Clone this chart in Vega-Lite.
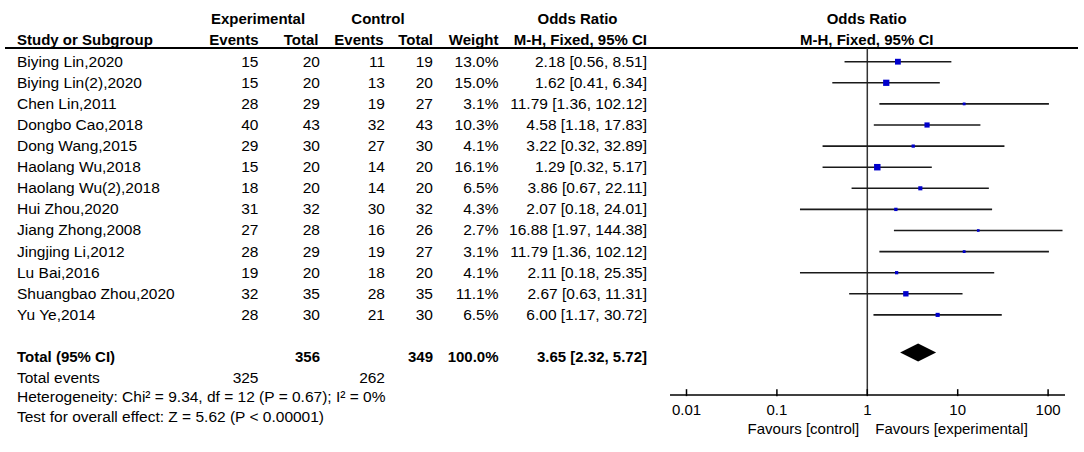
{
  "$schema": "https://vega.github.io/schema/vega-lite/v6.json",
  "width": 1084,
  "height": 452,
  "padding": 0,
  "autosize": {"type": "fit", "contains": "padding"},
  "background": "white",
  "config": {
    "view": {"stroke": null},
    "text": {"font": "Liberation Sans", "fontSize": 15.5, "color": "#000000", "baseline": "middle"}
  },
  "datasets": {
    "studies": [
      {"study": "Biying Lin,2020", "expEv": 15, "expTot": 20, "ctlEv": 11, "ctlTot": 19, "weight": 0.130, "or": 2.18, "lo": 0.56, "hi": 8.51},
      {"study": "Biying Lin(2),2020", "expEv": 15, "expTot": 20, "ctlEv": 13, "ctlTot": 20, "weight": 0.150, "or": 1.62, "lo": 0.41, "hi": 6.34},
      {"study": "Chen Lin,2011", "expEv": 28, "expTot": 29, "ctlEv": 19, "ctlTot": 27, "weight": 0.031, "or": 11.79, "lo": 1.36, "hi": 102.12},
      {"study": "Dongbo Cao,2018", "expEv": 40, "expTot": 43, "ctlEv": 32, "ctlTot": 43, "weight": 0.103, "or": 4.58, "lo": 1.18, "hi": 17.83},
      {"study": "Dong Wang,2015", "expEv": 29, "expTot": 30, "ctlEv": 27, "ctlTot": 30, "weight": 0.041, "or": 3.22, "lo": 0.32, "hi": 32.89},
      {"study": "Haolang Wu,2018", "expEv": 15, "expTot": 20, "ctlEv": 14, "ctlTot": 20, "weight": 0.161, "or": 1.29, "lo": 0.32, "hi": 5.17},
      {"study": "Haolang Wu(2),2018", "expEv": 18, "expTot": 20, "ctlEv": 14, "ctlTot": 20, "weight": 0.065, "or": 3.86, "lo": 0.67, "hi": 22.11},
      {"study": "Hui Zhou,2020", "expEv": 31, "expTot": 32, "ctlEv": 30, "ctlTot": 32, "weight": 0.043, "or": 2.07, "lo": 0.18, "hi": 24.01},
      {"study": "Jiang Zhong,2008", "expEv": 27, "expTot": 28, "ctlEv": 16, "ctlTot": 26, "weight": 0.027, "or": 16.88, "lo": 1.97, "hi": 144.38},
      {"study": "Jingjing Li,2012", "expEv": 28, "expTot": 29, "ctlEv": 19, "ctlTot": 27, "weight": 0.031, "or": 11.79, "lo": 1.36, "hi": 102.12},
      {"study": "Lu Bai,2016", "expEv": 19, "expTot": 20, "ctlEv": 18, "ctlTot": 20, "weight": 0.041, "or": 2.11, "lo": 0.18, "hi": 25.35},
      {"study": "Shuangbao Zhou,2020", "expEv": 32, "expTot": 35, "ctlEv": 28, "ctlTot": 35, "weight": 0.111, "or": 2.67, "lo": 0.63, "hi": 11.31},
      {"study": "Yu Ye,2014", "expEv": 28, "expTot": 30, "ctlEv": 21, "ctlTot": 30, "weight": 0.065, "or": 6.00, "lo": 1.17, "hi": 30.72}
    ],
    "pooled": [
      {"label": "Total (95% CI)", "expTot": 356, "ctlTot": 349, "weight": 1.0, "or": 3.65, "lo": 2.32, "hi": 5.72, "expEv": 325, "ctlEv": 262,
       "het": "Heterogeneity: Chi² = 9.34, df = 12 (P = 0.67); I² = 0%", "test": "Test for overall effect: Z = 5.62 (P < 0.00001)"}
    ],
    "ticks": [{"v": 0.01}, {"v": 0.1}, {"v": 1}, {"v": 10}, {"v": 100}],
    "blank": [{}]
  },
  "resolve": {"scale": {"x": "independent"}},
  "layer": [
    {
      "layer": [
        {
          "data": {"name": "blank"},
          "mark": {"type": "rule", "color": "#000000", "strokeWidth": 1.8},
          "encoding": {
            "x": {"datum": 5, "type": "quantitative", "scale": {"domain": [0, 1084], "nice": false, "zero": false}, "axis": null},
            "x2": {"datum": 1078},
            "y": {"datum": 0.35, "type": "quantitative", "scale": {"domain": [-1.924, 19.498], "reverse": true, "nice": false, "zero": false}, "axis": null}
          }
        },
        {
          "data": {"name": "blank"},
          "encoding": {
            "x": {"datum": 258, "type": "quantitative", "scale": {"domain": [0, 1084], "nice": false, "zero": false}, "axis": null},
            "y": {"datum": -1.01, "type": "quantitative", "scale": {"domain": [-1.924, 19.498], "reverse": true, "nice": false, "zero": false}, "axis": null}
          },
          "layer": [
            {"mark": {"type": "text", "align": "center", "fontWeight": "bold", "fontSize": 15}, "encoding": {"text": {"value": "Experimental"}}},
            {"mark": {"type": "text", "align": "center", "fontWeight": "bold", "fontSize": 15}, "encoding": {"x": {"datum": 378}, "text": {"value": "Control"}}},
            {"mark": {"type": "text", "align": "center", "fontWeight": "bold", "fontSize": 15}, "encoding": {"x": {"datum": 577.5}, "text": {"value": "Odds Ratio"}}},
            {"mark": {"type": "text", "align": "center", "fontWeight": "bold", "fontSize": 15}, "encoding": {"x": {"datum": 866.7}, "text": {"value": "Odds Ratio"}}},
            {"mark": {"type": "text", "align": "left", "fontWeight": "bold", "fontSize": 15}, "encoding": {"x": {"datum": 17}, "y": {"datum": -0.03}, "text": {"value": "Study or Subgroup"}}},
            {"mark": {"type": "text", "align": "right", "fontWeight": "bold", "fontSize": 15}, "encoding": {"x": {"datum": 258.5}, "y": {"datum": -0.03}, "text": {"value": "Events"}}},
            {"mark": {"type": "text", "align": "right", "fontWeight": "bold", "fontSize": 15}, "encoding": {"x": {"datum": 318.5}, "y": {"datum": -0.03}, "text": {"value": "Total"}}},
            {"mark": {"type": "text", "align": "right", "fontWeight": "bold", "fontSize": 15}, "encoding": {"x": {"datum": 383.5}, "y": {"datum": -0.03}, "text": {"value": "Events"}}},
            {"mark": {"type": "text", "align": "right", "fontWeight": "bold", "fontSize": 15}, "encoding": {"x": {"datum": 433}, "y": {"datum": -0.03}, "text": {"value": "Total"}}},
            {"mark": {"type": "text", "align": "right", "fontWeight": "bold", "fontSize": 15}, "encoding": {"x": {"datum": 498.5}, "y": {"datum": -0.03}, "text": {"value": "Weight"}}},
            {"mark": {"type": "text", "align": "right", "fontWeight": "bold", "fontSize": 15}, "encoding": {"x": {"datum": 647}, "y": {"datum": -0.03}, "text": {"value": "M-H, Fixed, 95% CI"}}},
            {"mark": {"type": "text", "align": "center", "fontWeight": "bold", "fontSize": 15}, "encoding": {"x": {"datum": 866.7}, "y": {"datum": -0.03}, "text": {"value": "M-H, Fixed, 95% CI"}}}
          ]
        },
        {
          "data": {"name": "studies"},
          "transform": [
            {"window": [{"op": "row_number", "as": "rank"}]},
            {"calculate": "format(datum.or, '.2f') + ' [' + format(datum.lo, '.2f') + ', ' + format(datum.hi, '.2f') + ']'", "as": "orLabel"}
          ],
          "encoding": {
            "x": {"datum": 17, "type": "quantitative", "scale": {"domain": [0, 1084], "nice": false, "zero": false}, "axis": null},
            "y": {"field": "rank", "type": "quantitative", "scale": {"domain": [-1.924, 19.498], "reverse": true, "nice": false, "zero": false}, "axis": null}
          },
          "layer": [
            {"mark": {"type": "text", "align": "left"}, "encoding": {"text": {"field": "study"}}},
            {"mark": {"type": "text", "align": "right"}, "encoding": {"x": {"datum": 258.5}, "text": {"field": "expEv"}}},
            {"mark": {"type": "text", "align": "right"}, "encoding": {"x": {"datum": 320}, "text": {"field": "expTot"}}},
            {"mark": {"type": "text", "align": "right"}, "encoding": {"x": {"datum": 385}, "text": {"field": "ctlEv"}}},
            {"mark": {"type": "text", "align": "right"}, "encoding": {"x": {"datum": 433}, "text": {"field": "ctlTot"}}},
            {"mark": {"type": "text", "align": "right"}, "encoding": {"x": {"datum": 498.5}, "text": {"field": "weight", "type": "quantitative", "format": ".1%"}}},
            {"mark": {"type": "text", "align": "right"}, "encoding": {"x": {"datum": 647}, "text": {"field": "orLabel"}}}
          ]
        },
        {
          "data": {"name": "pooled"},
          "transform": [
            {"calculate": "format(datum.or, '.2f') + ' [' + format(datum.lo, '.2f') + ', ' + format(datum.hi, '.2f') + ']'", "as": "orLabel"}
          ],
          "encoding": {
            "x": {"datum": 17, "type": "quantitative", "scale": {"domain": [0, 1084], "nice": false, "zero": false}, "axis": null},
            "y": {"datum": 15, "type": "quantitative", "scale": {"domain": [-1.924, 19.498], "reverse": true, "nice": false, "zero": false}, "axis": null}
          },
          "layer": [
            {"mark": {"type": "text", "align": "left", "fontWeight": "bold", "fontSize": 15}, "encoding": {"text": {"field": "label"}}},
            {"mark": {"type": "text", "align": "right", "fontWeight": "bold", "fontSize": 15}, "encoding": {"x": {"datum": 320}, "text": {"field": "expTot"}}},
            {"mark": {"type": "text", "align": "right", "fontWeight": "bold", "fontSize": 15}, "encoding": {"x": {"datum": 433}, "text": {"field": "ctlTot"}}},
            {"mark": {"type": "text", "align": "right", "fontWeight": "bold", "fontSize": 15}, "encoding": {"x": {"datum": 498.5}, "text": {"field": "weight", "type": "quantitative", "format": ".1%"}}},
            {"mark": {"type": "text", "align": "right", "fontWeight": "bold", "fontSize": 15}, "encoding": {"x": {"datum": 647}, "text": {"field": "orLabel"}}},
            {"mark": {"type": "text", "align": "left"}, "encoding": {"y": {"datum": 16}, "text": {"value": "Total events"}}},
            {"mark": {"type": "text", "align": "right"}, "encoding": {"x": {"datum": 258.5}, "y": {"datum": 16}, "text": {"field": "expEv"}}},
            {"mark": {"type": "text", "align": "right"}, "encoding": {"x": {"datum": 385}, "y": {"datum": 16}, "text": {"field": "ctlEv"}}},
            {"mark": {"type": "text", "align": "left"}, "encoding": {"y": {"datum": 16.88}, "text": {"field": "het"}}},
            {"mark": {"type": "text", "align": "left"}, "encoding": {"y": {"datum": 17.84}, "text": {"field": "test"}}}
          ]
        }
      ]
    },
    {
      "layer": [
        {
          "data": {"name": "blank"},
          "mark": {"type": "rule", "color": "#333333", "strokeWidth": 1.5},
          "encoding": {
            "x": {"datum": 1, "type": "quantitative", "scale": {"type": "log", "domain": [0.01, 100], "range": [686.5, 1048.1]}, "axis": null},
            "y": {"datum": 0.35, "type": "quantitative", "scale": {"domain": [-1.924, 19.498], "reverse": true, "nice": false, "zero": false}, "axis": null},
            "y2": {"datum": 16.8}
          }
        },
        {
          "data": {"name": "blank"},
          "mark": {"type": "rule", "color": "#000000", "strokeWidth": 1.5},
          "encoding": {
            "x": {"datum": 0.00657, "type": "quantitative", "scale": {"type": "log", "domain": [0.01, 100], "range": [686.5, 1048.1]}, "axis": null},
            "x2": {"datum": 153.8},
            "y": {"datum": 16.8, "type": "quantitative", "scale": {"domain": [-1.924, 19.498], "reverse": true, "nice": false, "zero": false}, "axis": null}
          }
        },
        {
          "data": {"name": "ticks"},
          "mark": {"type": "rule", "color": "#000000", "strokeWidth": 1.5},
          "encoding": {
            "x": {"field": "v", "type": "quantitative", "scale": {"type": "log", "domain": [0.01, 100], "range": [686.5, 1048.1]}, "axis": null},
            "y": {"datum": 16.52, "type": "quantitative", "scale": {"domain": [-1.924, 19.498], "reverse": true, "nice": false, "zero": false}, "axis": null},
            "y2": {"datum": 16.85}
          }
        },
        {
          "data": {"name": "ticks"},
          "mark": {"type": "text", "align": "center", "fontSize": 15},
          "encoding": {
            "x": {"field": "v", "type": "quantitative", "scale": {"type": "log", "domain": [0.01, 100], "range": [686.5, 1048.1]}, "axis": null},
            "y": {"datum": 17.51, "type": "quantitative", "scale": {"domain": [-1.924, 19.498], "reverse": true, "nice": false, "zero": false}, "axis": null},
            "text": {"field": "v", "type": "quantitative", "format": "~g"}
          }
        },
        {
          "data": {"name": "blank"},
          "encoding": {
            "x": {"datum": 1, "type": "quantitative", "scale": {"type": "log", "domain": [0.01, 100], "range": [686.5, 1048.1]}, "axis": null},
            "y": {"datum": 18.42, "type": "quantitative", "scale": {"domain": [-1.924, 19.498], "reverse": true, "nice": false, "zero": false}, "axis": null}
          },
          "layer": [
            {"mark": {"type": "text", "align": "right", "dx": -8, "fontSize": 15}, "encoding": {"text": {"value": "Favours [control]"}}},
            {"mark": {"type": "text", "align": "left", "dx": 8, "fontSize": 15}, "encoding": {"text": {"value": "Favours [experimental]"}}}
          ]
        },
        {
          "data": {"name": "studies"},
          "transform": [{"window": [{"op": "row_number", "as": "rank"}]}],
          "encoding": {
            "y": {"field": "rank", "type": "quantitative", "scale": {"domain": [-1.924, 19.498], "reverse": true, "nice": false, "zero": false}, "axis": null}
          },
          "layer": [
            {
              "mark": {"type": "rule", "color": "#1a1a1a", "strokeWidth": 1.6},
              "encoding": {
                "x": {"field": "lo", "type": "quantitative", "scale": {"type": "log", "domain": [0.01, 100], "range": [686.5, 1048.1]}, "axis": null},
                "x2": {"field": "hi"}
              }
            },
            {
              "mark": {"type": "square", "color": "#0000cc", "filled": true, "opacity": 1},
              "encoding": {
                "x": {"field": "or", "type": "quantitative", "scale": {"type": "log", "domain": [0.01, 100], "range": [686.5, 1048.1]}, "axis": null},
                "size": {"field": "weight", "type": "quantitative", "scale": {"domain": [0, 0.2], "range": [0, 52], "zero": true}, "legend": null}
              }
            }
          ]
        },
        {
          "data": {"name": "pooled"},
          "mark": {"type": "point", "shape": "M -1 0 L 0 -0.5 L 1 0 L 0 0.5 Z", "filled": true, "color": "#000000", "opacity": 1, "size": 1296},
          "encoding": {
            "x": {"field": "or", "type": "quantitative", "scale": {"type": "log", "domain": [0.01, 100], "range": [686.5, 1048.1]}, "axis": null},
            "y": {"datum": 14.78, "type": "quantitative", "scale": {"domain": [-1.924, 19.498], "reverse": true, "nice": false, "zero": false}, "axis": null}
          }
        }
      ]
    }
  ]
}
